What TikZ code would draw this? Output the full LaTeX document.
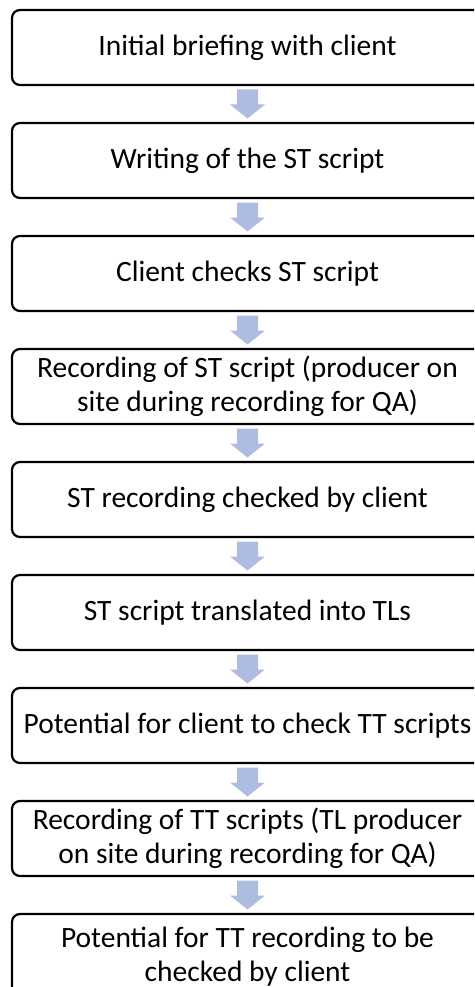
\documentclass[tikz,border=0pt]{standalone}
\usepackage{fontspec}
\setmainfont{Carlito}
\usetikzlibrary{calc}
\definecolor{arrowfill}{HTML}{AEBCE1}
\tikzset{
  stepbox/.style={draw=black, line width=2.2pt, rounded corners=8pt,
    minimum width=471pt, minimum height=75pt, inner sep=0pt, outer sep=0pt,
    align=center, font=\fontsize{29.5}{34}\selectfont},
  flowfill/.style={fill=arrowfill, draw=none}
}
% block arrow centred in the gap between two boxes
\newcommand\flowarrow[2]{%
  \coordinate (#1m) at ($(#1.south)!0.5!(#2.north)$);
  \fill[flowfill] ($(#1m)+(-10.5,-14.5)$) -- ($(#1m)+(10.5,-14.5)$)
    -- ($(#1m)+(10.5,0.5)$) -- ($(#1m)+(17.5,0.5)$) -- ($(#1m)+(0,14.5)$)
    -- ($(#1m)+(-17.5,0.5)$) -- ($(#1m)+(-10.5,0.5)$) -- cycle;}
\begin{document}
\begin{tikzpicture}[x=1pt,y=-1pt]
\useasboundingbox (0,0) rectangle (474,987);
\clip (0,0) rectangle (474,987);
\node[stepbox] (b1) at (247.5,47.5) {Initial briefing with client};
\node[stepbox] (b2) at (247.5,160.5) {Writing of the ST script};
\node[stepbox] (b3) at (247.5,273.5) {Client checks ST script};
\node[stepbox] (b4) at (247.5,386.5) {Recording of ST script (producer on\\site during recording for QA)};
\node[stepbox] (b5) at (247.5,499.5) {ST recording checked by client};
\node[stepbox] (b6) at (247.5,612.5) {ST script translated into TLs};
\node[stepbox] (b7) at (247.5,725.5) {Potential for client to check TT scripts};
\node[stepbox] (b8) at (247.5,838.5) {Recording of TT scripts (TL producer\\on site during recording for QA)};
\node[stepbox, minimum height=86pt] (b9) at (247.5,957) {Potential for TT recording to be\\checked by client};
\flowarrow{b1}{b2}
\flowarrow{b2}{b3}
\flowarrow{b3}{b4}
\flowarrow{b4}{b5}
\flowarrow{b5}{b6}
\flowarrow{b6}{b7}
\flowarrow{b7}{b8}
\flowarrow{b8}{b9}
\end{tikzpicture}
\end{document}
